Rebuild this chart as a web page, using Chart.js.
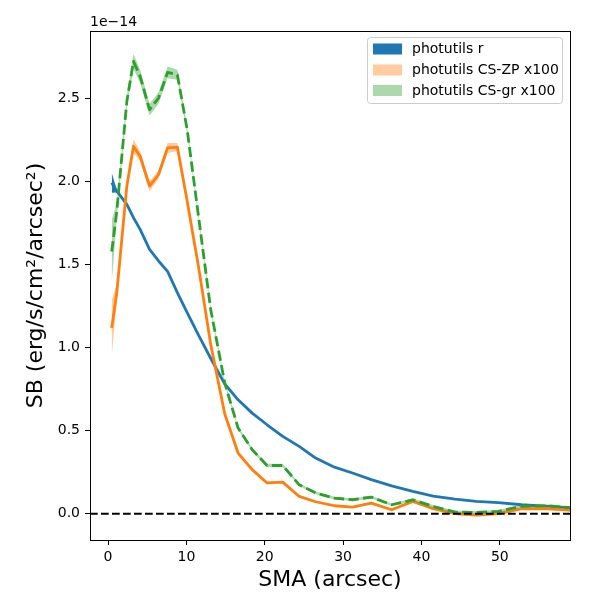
<!DOCTYPE html>
<html>
<head>
<meta charset="utf-8">
<script src="https://cdn.jsdelivr.net/npm/chart.js@4/dist/chart.umd.min.js"></script>
<style>
html,body{margin:0;padding:0;background:#fff;}
#wrap{width:600px;height:600px;}
</style>
</head>
<body>
<div id="wrap"><canvas id="c" width="600" height="600"></canvas></div>
<script>
// ---- data (units of 1e-14 erg/s/cm^2/arcsec^2) ----
const sma  = [0.47, 1.12, 2.4, 3.25, 4.1, 5.3, 6.45, 7.6, 8.85, 10.1, 11.6, 13.1, 14.9, 16.6, 18.4, 20.3, 22.3, 24.4, 26.5, 28.9, 31.2, 33.6, 36.2, 38.9, 41.5, 44.3, 47.0, 49.8, 52.8, 56.2, 59.5, 62.8];
const rSB  = [1.99, 1.94, 1.86, 1.78, 1.71, 1.59, 1.52, 1.457, 1.33, 1.21, 1.07, 0.935, 0.78, 0.685, 0.605, 0.535, 0.465, 0.405, 0.335, 0.28, 0.245, 0.205, 0.168, 0.134, 0.106, 0.088, 0.074, 0.067, 0.054, 0.044, 0.034, 0.03];
const rErr = [0.06, 0.008, 0.004, 0.004, 0.003, 0.003, 0.003, 0.003, 0.003, 0.003, 0.002, 0.002, 0.002, 0.002, 0.002, 0.002, 0.002, 0.002, 0.002, 0.002, 0.002, 0.002, 0.002, 0.002, 0.002, 0.002, 0.002, 0.002, 0.002, 0.002, 0.002, 0.002];
const zpSB  = [1.117, 1.33, 1.97, 2.21, 2.15, 1.97, 2.04, 2.20, 2.205, 1.88, 1.47, 1.02, 0.60, 0.365, 0.265, 0.185, 0.19, 0.104, 0.072, 0.048, 0.04, 0.064, 0.024, 0.074, 0.03, 0.0, -0.008, 0.0, 0.03, 0.03, 0.02, 0.02];
const zpErr = [0.17, 0.05, 0.03, 0.04, 0.03, 0.03, 0.025, 0.03, 0.025, 0.02, 0.015, 0.012, 0.01, 0.008, 0.008, 0.007, 0.007, 0.006, 0.006, 0.006, 0.006, 0.006, 0.006, 0.006, 0.006, 0.006, 0.008, 0.008, 0.008, 0.008, 0.008, 0.008];
const grSB  = [1.577, 1.818, 2.479, 2.72, 2.63, 2.43, 2.50, 2.654, 2.64, 2.31, 1.77, 1.23, 0.786, 0.515, 0.385, 0.29, 0.29, 0.174, 0.125, 0.094, 0.084, 0.1, 0.054, 0.084, 0.044, 0.01, 0.008, 0.014, 0.045, 0.048, 0.034, 0.03];
const grErr = [0.19, 0.05, 0.035, 0.045, 0.04, 0.035, 0.035, 0.035, 0.03, 0.022, 0.018, 0.015, 0.012, 0.01, 0.01, 0.01, 0.01, 0.008, 0.008, 0.008, 0.008, 0.008, 0.008, 0.008, 0.008, 0.008, 0.008, 0.008, 0.008, 0.008, 0.008, 0.008];

const seriesNames = ['photutils r', 'photutils CS-ZP x100', 'photutils CS-gr x100'];
const xTicks = [0, 10, 20, 30, 40, 50];
const xTickLabels = ['0', '10', '20', '30', '40', '50'];
const yTicks = [0, 0.5, 1.0, 1.5, 2.0, 2.5];
const yTickLabels = ['0.0', '0.5', '1.0', '1.5', '2.0', '2.5'];
const xRange = [-2.3, 58.96];
const yRange = [-0.158, 2.903];
const xTitle = 'SMA (arcsec)';
const yTitle = 'SB (erg/s/cm\u00B2/arcsec\u00B2)';
const offsetText = '1e\u221214';

// ---- build datasets ----
const FONT = '"DejaVu Sans", sans-serif';
const pts = (ys) => sma.map((x, i) => ({x: x, y: ys[i]}));
const upper = (v, e) => v.map((y, i) => y + e[i]);
const lower = (v, e) => v.map((y, i) => y - e[i]);

const colors = ['#1f77b4', '#ff7f0e', '#2ca02c'];
const bandColors = ['#1f77b4', 'rgba(255,127,14,0.4)', 'rgba(44,160,44,0.4)'];
const vals = [rSB, zpSB, grSB];
const errs = [rErr, zpErr, grErr];

const datasets = [];
let ord = 20;
for (let s = 0; s < 3; s++) {
  datasets.push({
    data: pts(upper(vals[s], errs[s])), borderWidth: 0, pointRadius: 0,
    fill: '+1', backgroundColor: bandColors[s], borderColor: 'rgba(0,0,0,0)', order: ord--, clip: 0
  });
  datasets.push({
    data: pts(lower(vals[s], errs[s])), borderWidth: 0, pointRadius: 0,
    fill: false, borderColor: 'rgba(0,0,0,0)', order: ord--, clip: 0
  });
  datasets.push({
    data: pts(vals[s]), borderWidth: 2.8, pointRadius: 0, fill: false,
    borderColor: colors[s], borderDash: s === 2 ? [10.3, 4.4] : [], order: ord--, clip: 0,
    borderCapStyle: 'butt', borderJoinStyle: 'round'
  });
}
// zero reference line
datasets.push({
  data: [{x: xRange[0], y: 0}, {x: xRange[1], y: 0}],
  borderWidth: 2, borderColor: '#000', borderDash: [7.7, 3.3], pointRadius: 0, fill: false, order: ord--, clip: 0
});

const decor = {
  id: 'decor',
  afterDraw(chart) {
    const ctx = chart.ctx;
    const a = chart.chartArea;
    ctx.save();
    // frame
    ctx.strokeStyle = '#000';
    ctx.lineWidth = 1;
    ctx.strokeRect(Math.round(a.left) + 0.5, Math.round(a.top) + 0.5, Math.round(a.right - a.left), Math.round(a.bottom - a.top));
    // titles
    ctx.fillStyle = '#000';
    ctx.font = '22px ' + FONT;
    ctx.textAlign = 'center';
    ctx.textBaseline = 'middle';
    ctx.fillText(xTitle, (a.left + a.right) / 2, 580);
    ctx.save();
    ctx.translate(36, (a.top + a.bottom) / 2);
    ctx.rotate(-Math.PI / 2);
    ctx.fillText(yTitle, 0, 0);
    ctx.restore();
    // offset text
    ctx.font = '14px ' + FONT;
    ctx.textAlign = 'left';
    ctx.textBaseline = 'alphabetic';
    ctx.fillText(offsetText, a.left, 26);
    // legend
    const bx = 367.5, by = 37.5, bw = 195, bh = 66, r = 3;
    ctx.beginPath();
    ctx.moveTo(bx + r, by);
    ctx.lineTo(bx + bw - r, by); ctx.arcTo(bx + bw, by, bx + bw, by + r, r);
    ctx.lineTo(bx + bw, by + bh - r); ctx.arcTo(bx + bw, by + bh, bx + bw - r, by + bh, r);
    ctx.lineTo(bx + r, by + bh); ctx.arcTo(bx, by + bh, bx, by + bh - r, r);
    ctx.lineTo(bx, by + r); ctx.arcTo(bx, by, bx + r, by, r);
    ctx.closePath();
    ctx.fillStyle = 'rgba(255,255,255,0.8)';
    ctx.fill();
    ctx.strokeStyle = '#cccccc';
    ctx.stroke();
    const rows = [49, 70, 90.5];
    ctx.font = '14px ' + FONT;
    ctx.textBaseline = 'middle';
    for (let s = 0; s < 3; s++) {
      ctx.fillStyle = bandColors[s];
      ctx.fillRect(373, rows[s] - 5.5, 29, 11);
      ctx.fillStyle = '#000';
      ctx.fillText(seriesNames[s], 412, rows[s] + 0.5);
    }
    ctx.restore();
  }
};

new Chart(document.getElementById('c'), {
  type: 'line',
  data: {datasets: datasets},
  plugins: [decor],
  options: {
    responsive: false,
    animation: false,
    devicePixelRatio: 1,
    layout: {padding: {top: 31, right: 30, left: 0, bottom: 0}},
    plugins: {legend: {display: false}, tooltip: {enabled: false}},
    elements: {line: {tension: 0}},
    scales: {
      x: {
        type: 'linear', min: xRange[0], max: xRange[1],
        afterFit: (s) => { s.height = 60; },
        afterBuildTicks: (s) => { s.ticks = xTicks.map(v => ({value: v})); },
        ticks: {
          autoSkip: false, maxRotation: 0, padding: 4, color: '#000',
          font: {family: FONT, size: 14},
          callback: (v) => { const i = xTicks.indexOf(v); return i >= 0 ? xTickLabels[i] : ''; }
        },
        grid: {drawOnChartArea: false, drawTicks: true, tickLength: 5, tickColor: '#000', tickWidth: 1},
        border: {display: true, color: '#000', width: 1}
      },
      y: {
        type: 'linear', min: yRange[0], max: yRange[1],
        afterFit: (s) => { s.width = 90; },
        afterBuildTicks: (s) => { s.ticks = yTicks.map(v => ({value: v})); },
        ticks: {
          autoSkip: false, padding: 5, color: '#000',
          font: {family: FONT, size: 14},
          callback: (v) => { const i = yTicks.indexOf(v); return i >= 0 ? yTickLabels[i] : ''; }
        },
        grid: {drawOnChartArea: false, drawTicks: true, tickLength: 5, tickColor: '#000', tickWidth: 1},
        border: {display: true, color: '#000', width: 1}
      }
    }
  }
});
</script>
</body>
</html>
